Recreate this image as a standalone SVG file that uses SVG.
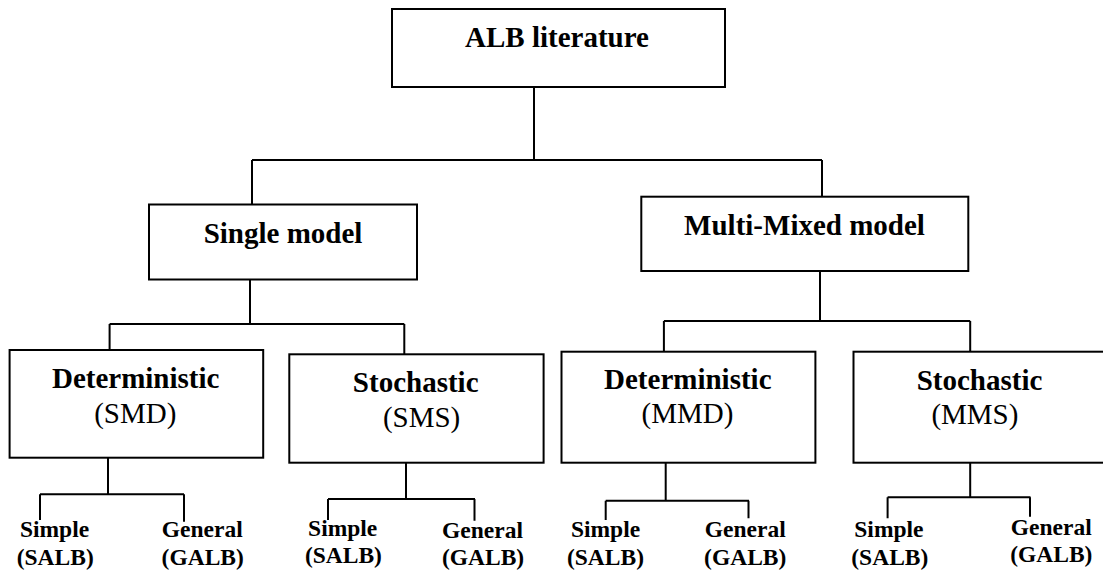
<svg xmlns="http://www.w3.org/2000/svg" width="1103" height="570" viewBox="0 0 1103 570" font-family="Liberation Serif, Times New Roman, serif">
<style>
.box{fill:#fff;stroke:#000;stroke-width:2}
.ln{fill:none;stroke:#000;stroke-width:2}
text{font-family:'Liberation Serif','Times New Roman',serif;fill:#000;text-anchor:middle}
.t{font-size:29px;font-weight:bold}
.r{font-size:29px;font-weight:normal}
.l{font-size:23.5px;font-weight:bold}
</style>
<rect width="1103" height="570" fill="#fff"/>
<g id="connectors" class="ln">
<path d="M534 87V160M252 160H822M252 160V204.5M822 160V197"/>
<path d="M250 279.5V324M109.6 324H404.3M109.6 324V350M404.3 324V354.3"/>
<path d="M820 271V321M663.9 321H970.2M663.9 321V351.7M970.2 321V351.7"/>
<path d="M108 457.7V494.3M40 494.3H184M40 494.3V520M184 494.3V521.7"/>
<path d="M406 462.7V499M328 499H475M328 499V520M474.5 499V520.7"/>
<path d="M665.7 462.7V500.7M605.7 500.7H749M605.7 500.7V520M748.5 500.7V518.3"/>
<path d="M970.2 462.7V497.3M887.6 497.3H1030.5M887.6 497.3V518.3M1030 497.3V516.7"/>
</g>
<g id="alb">
<rect class="box" x="392" y="9" width="333" height="78"/>
<text class="t" x="557" y="46.7" font-family="Liberation Serif">ALB literature</text>
</g>
<g id="single">
<rect class="box" x="149" y="204.5" width="268" height="75"/>
<text class="t" x="283" y="243.3" font-family="Liberation Serif">Single model</text>
</g>
<g id="multi">
<rect class="box" x="641.3" y="196.7" width="327" height="74.3"/>
<text class="t" x="804.5" y="235" font-family="Liberation Serif">Multi-Mixed model</text>
</g>
<g id="smd">
<rect class="box" x="9.6" y="350" width="253.6" height="107.7"/>
<text class="t" x="135.7" y="388.3" font-family="Liberation Serif">Deterministic</text>
<text class="r" x="135.3" y="423.3" font-family="Liberation Serif">(SMD)</text>
</g>
<g id="sms">
<rect class="box" x="289.3" y="354.3" width="254.3" height="108.4"/>
<text class="t" x="415.7" y="391.7" font-family="Liberation Serif">Stochastic</text>
<text class="r" x="421.6" y="426.7" font-family="Liberation Serif">(SMS)</text>
</g>
<g id="mmd">
<rect class="box" x="561.5" y="351.7" width="253.9" height="111"/>
<text class="t" x="687.8" y="389.3" font-family="Liberation Serif">Deterministic</text>
<text class="r" x="687.4" y="423.3" font-family="Liberation Serif">(MMD)</text>
</g>
<g id="mms">
<rect class="box" x="853.5" y="351.7" width="260" height="111"/>
<text class="t" x="979.5" y="390" font-family="Liberation Serif">Stochastic</text>
<text class="r" x="974.9" y="424" font-family="Liberation Serif">(MMS)</text>
</g>
<g id="smd-simple">
<text class="l" x="54.5" y="537.3" font-family="Liberation Serif">Simple</text>
<text class="l" x="55.2" y="565" font-family="Liberation Serif">(SALB)</text>
</g>
<g id="smd-general">
<text class="l" x="202.3" y="537.3" font-family="Liberation Serif">General</text>
<text class="l" x="202.7" y="565" font-family="Liberation Serif">(GALB)</text>
</g>
<g id="sms-simple">
<text class="l" x="342.7" y="535.7" font-family="Liberation Serif">Simple</text>
<text class="l" x="343.4" y="563.3" font-family="Liberation Serif">(SALB)</text>
</g>
<g id="sms-general">
<text class="l" x="482.5" y="537.7" font-family="Liberation Serif">General</text>
<text class="l" x="483" y="565" font-family="Liberation Serif">(GALB)</text>
</g>
<g id="mmd-simple">
<text class="l" x="605.5" y="537.3" font-family="Liberation Serif">Simple</text>
<text class="l" x="605.5" y="565" font-family="Liberation Serif">(SALB)</text>
</g>
<g id="mmd-general">
<text class="l" x="745.3" y="537.3" font-family="Liberation Serif">General</text>
<text class="l" x="745.2" y="565" font-family="Liberation Serif">(GALB)</text>
</g>
<g id="mms-simple">
<text class="l" x="888.9" y="537.3" font-family="Liberation Serif">Simple</text>
<text class="l" x="889.8" y="565" font-family="Liberation Serif">(SALB)</text>
</g>
<g id="mms-general">
<text class="l" x="1051.3" y="535" font-family="Liberation Serif">General</text>
<text class="l" x="1051.3" y="561.7" font-family="Liberation Serif">(GALB)</text>
</g>
</svg>
